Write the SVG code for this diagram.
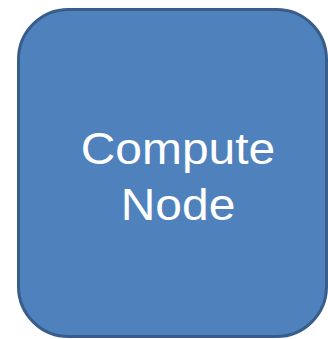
<svg xmlns="http://www.w3.org/2000/svg" width="328" height="339" viewBox="0 0 328 339">
<style>
.box{fill:#4F81BD;stroke:#385D8A;stroke-width:3}
.lbl{font-family:"Liberation Sans",Arial,sans-serif;font-size:44px;fill:#FFFFFF;text-anchor:middle}
</style>
<rect width="328" height="339" fill="#FFFFFF"/>
<g id="compute-node">
<rect class="box" x="18.5" y="9.5" width="308" height="327" rx="50" ry="50"/>
<g transform="translate(178 0) scale(1.09 1)">
<text class="lbl" x="0" y="164">Compute</text>
<text class="lbl" x="0" y="220">Node</text>
</g>
</g>
<g id="connectors"></g>
</svg>
